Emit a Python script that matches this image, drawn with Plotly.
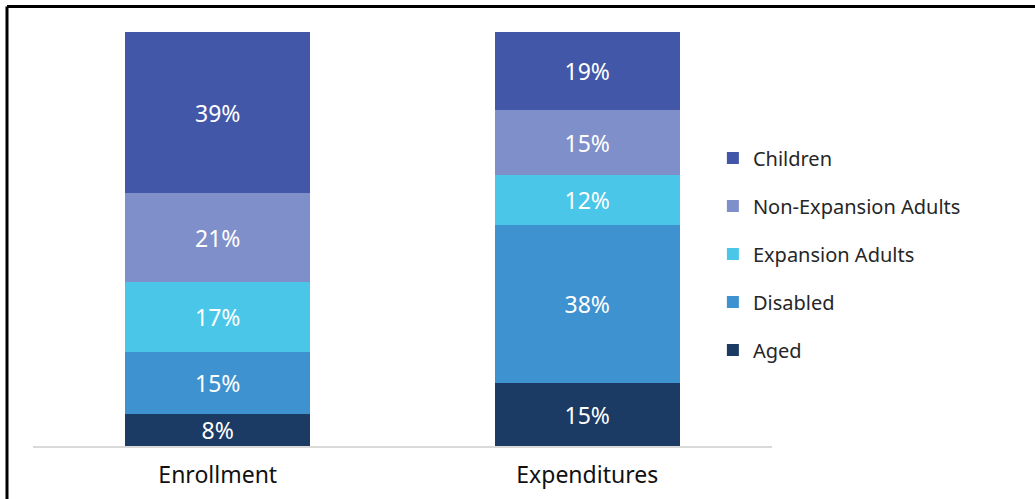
import plotly.graph_objects as go

categories = ["Enrollment", "Expenditures"]
series_names = ["Aged", "Disabled", "Expansion Adults", "Non-Expansion Adults", "Children"]
values = {
    "Aged": [7.7, 15.2],
    "Disabled": [15.0, 38.2],
    "Expansion Adults": [16.8, 12.0],
    "Non-Expansion Adults": [21.5, 15.7],
    "Children": [39.0, 18.9],
}
labels = {
    "Aged": ["8%", "15%"],
    "Disabled": ["15%", "38%"],
    "Expansion Adults": ["17%", "12%"],
    "Non-Expansion Adults": ["21%", "15%"],
    "Children": ["39%", "19%"],
}
colors = {
    "Aged": "#1B3A64",
    "Disabled": "#3F92D0",
    "Expansion Adults": "#4AC6E8",
    "Non-Expansion Adults": "#7F8FC9",
    "Children": "#4257A8",
}

FONT = "Noto Sans, Open Sans, sans-serif"

fig = go.Figure()
for i, name in enumerate(series_names):
    fig.add_trace(go.Bar(
        x=categories, y=values[name], name=name,
        text=labels[name], textposition="inside", insidetextanchor="middle",
        textangle=0, constraintext="none",
        textfont=dict(color="white", size=23, family=FONT),
        marker=dict(color=colors[name], line=dict(width=0)),
        legendgroup=name, legendrank=len(series_names) - i, hoverinfo="skip",
    ))

fig.update_layout(
    barmode="stack",
    bargap=0.5,
    width=1035, height=499,
    margin=dict(l=33, r=263, t=32, b=52.5, autoexpand=False),
    paper_bgcolor="white", plot_bgcolor="white",
    showlegend=True,
    legend=dict(
        traceorder="grouped", tracegroupgap=19,
        x=0.92, xanchor="left", y=0.464, yanchor="middle",
        font=dict(size=20, family=FONT, color="#262626"),
        bgcolor="rgba(0,0,0,0)",
    ),
    xaxis=dict(
        showline=True, linecolor="#D9D9D9", linewidth=2,
        showgrid=False, ticks="outside", ticklen=7, tickcolor="rgba(0,0,0,0)",
        tickfont=dict(size=23, family=FONT, color="#111111"),
        range=[-0.5, 1.5], automargin=False,
    ),
    yaxis=dict(range=[0, 100], visible=False, showgrid=False, zeroline=False),
)

# Frame (partially cropped border of the original chart)
fig.add_shape(type="line", xref="paper", yref="paper",
              x0=(7 - 33) / 739, x1=(1040 - 33) / 739,
              y0=(446.5 - 6.5) / 414.5, y1=(446.5 - 6.5) / 414.5,
              line=dict(color="black", width=3))
fig.add_shape(type="line", xref="paper", yref="paper",
              x0=(7 - 33) / 739, x1=(7 - 33) / 739,
              y0=(446.5 - 6.5) / 414.5, y1=(446.5 - 505) / 414.5,
              line=dict(color="black", width=3))

fig.write_html("out.html", config={"displayModeBar": False},
               post_script="document.body.style.margin='0';document.body.style.overflow='hidden';")
